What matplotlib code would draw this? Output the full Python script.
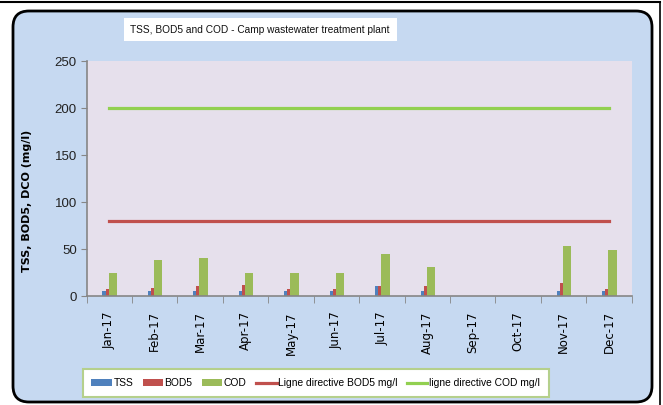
import matplotlib
matplotlib.use("Agg")
import matplotlib.pyplot as plt
import numpy as np
from matplotlib.patches import FancyBboxPatch

months = ["Jan-17", "Feb-17", "Mar-17", "Apr-17", "May-17", "Jun-17",
          "Jul-17", "Aug-17", "Sep-17", "Oct-17", "Nov-17", "Dec-17"]
tss = [5, 5, 5, 5, 5, 5, 10.5, 5, 0, 0, 5, 5]
bod5 = [7.5, 9, 10.5, 12, 7.5, 7.5, 10.5, 10.5, 0, 0, 14, 7.5]
cod = [25, 38, 40, 25, 25, 25, 44.5, 31, 0, 0, 53, 49]
bod5_limit = [80] * 12
cod_limit = [200] * 12
yticks = [0, 50, 100, 150, 200, 250]

NARROW = ["Liberation Sans", "DejaVu Sans"]

fig = plt.figure(figsize=(6.63, 4.05), dpi=100)

# ---- background: rounded light blue box (pixel coords) ----
bg = fig.add_axes([0, 0, 1, 1], zorder=0)
bg.set_xlim(0, 663)
bg.set_ylim(405, 0)
bg.axis("off")
bg.add_patch(FancyBboxPatch((13, 11), 639, 391, boxstyle="round,pad=0,rounding_size=16",
                            facecolor="#c6d9f1", edgecolor="black", linewidth=2))
bg.plot([0, 660], [1.5, 1.5], color="black", linewidth=1.5)
bg.plot([660, 660], [1.5, 405], color="black", linewidth=1.2)

# ---- main chart ----
ax = fig.add_axes([0.1305, 0.269, 0.8223, 0.58], zorder=1)
ax.set_facecolor("#e6e0ec")
x = np.arange(len(months))

ax.bar(x - 0.115, tss, width=0.067, color="#4f81bd", label="TSS")
ax.bar(x - 0.048, bod5, width=0.067, color="#c0504d", label="BOD5")
ax.bar(x + 0.078, cod, width=0.187, color="#9bbb59", label="COD")
ax.plot(x, bod5_limit, color="#c0504d", linewidth=2.3, label="Ligne directive BOD5 mg/l")
ax.plot(x, cod_limit, color="#92d050", linewidth=2.3, label="ligne directive COD mg/l")

ax.set_xlim(-0.5, 11.5)
ax.set_ylim(0, 250)
ax.set_yticks(yticks)
ax.set_yticklabels([str(v) for v in yticks], family=NARROW, fontsize=9.5, color="#222222")
ax.set_xticks(x)
ax.set_xticklabels(months, rotation=90, fontsize=8.5)
ax.set_xticks(np.arange(-0.5, 12, 1), minor=True)
ax.tick_params(axis="x", which="major", length=0, pad=11)
ax.tick_params(axis="x", which="minor", length=5, color="#868686", direction="out")
ax.tick_params(axis="y", length=4, color="#868686", direction="out", pad=3)

for side in ["top", "right"]:
    ax.spines[side].set_visible(False)
for side in ["left", "bottom"]:
    ax.spines[side].set_color("#868686")
    ax.spines[side].set_linewidth(1.2)

ax.set_ylabel("TSS, BOD5, DCO (mg/l)", fontsize=8, fontweight="bold")
ax.yaxis.set_label_coords(-0.1, 0.404)

# ---- title ----
fig.text(0.3925, 0.927, "TSS, BOD5 and COD - Camp wastewater treatment plant",
         ha="center", va="center", fontsize=7.3, family=NARROW, color="#111111",
         bbox=dict(facecolor="white", edgecolor="none", pad=5))

# ---- legend ----
handles, labels = ax.get_legend_handles_labels()
order = [2, 3, 4, 0, 1]
leg = fig.legend([handles[i] for i in order], [labels[i] for i in order],
                 loc="center", bbox_to_anchor=(0.476, 0.054), ncol=5,
                 prop={"family": NARROW, "size": 7.4}, frameon=True, fancybox=False,
                 handlelength=2.0, handleheight=0.6, columnspacing=0.9, handletextpad=0.15,
                 borderpad=0.85)
leg.get_frame().set_edgecolor("#b5d08c")
leg.get_frame().set_linewidth(1.5)
leg.get_frame().set_facecolor("white")
leg.get_frame().set_alpha(1)

fig.savefig("out.png", dpi=100)
